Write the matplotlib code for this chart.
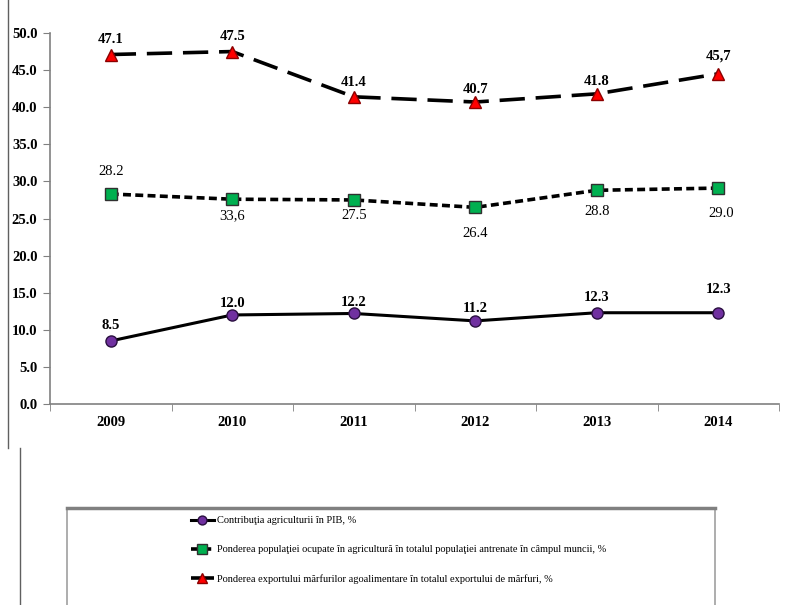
import matplotlib
matplotlib.use('Agg')
import matplotlib.pyplot as plt
from matplotlib.lines import Line2D
from matplotlib.patches import Rectangle

# data
years = ['2009', '2010', '2011', '2012', '2013', '2014']
pib = [8.5, 12.0, 12.2, 11.2, 12.3, 12.3]
pib_labels = ['8.5', '12.0', '12.2', '11.2', '12.3', '12.3']
populatie = [28.3, 27.6, 27.5, 26.5, 28.8, 29.1]
populatie_labels = ['28.2', '33,6', '27.5', '26.4', '28.8', '29.0']
export = [47.1, 47.5, 41.4, 40.7, 41.8, 44.5]
export_labels = ['47.1', '47.5', '41.4', '40.7', '41.8', '45,7']
legend_names = [
    'Contribuţia agriculturii în PIB, %',
    'Ponderea populaţiei ocupate în agricultură în totalul populaţiei antrenate în câmpul muncii, %',
    'Ponderea exportului mărfurilor agoalimentare în totalul exportului de mărfuri, %',
]

plt.rcParams['font.family'] = ['Liberation Serif', 'DejaVu Serif']

W, H = 790, 605
fig = plt.figure(figsize=(W / 100, H / 100), dpi=100)
# axes box in pixels: x 50..779, y 33..404
ax = fig.add_axes([50 / W, (H - 404) / H, (779 - 50) / W, (404 - 33) / H])

x = list(range(len(years)))

l1, = ax.plot(x, pib, color='black', lw=2.2, marker='o', markersize=8,
              markerfacecolor='#7030A0', markeredgecolor='#2a1040', zorder=3)
l2, = ax.plot(x, populatie, color='black', lw=2.6, linestyle=(0, (2.2, 1.2)),
              marker='s', markersize=8.5, markerfacecolor='#00B050',
              markeredgecolor='#303030', zorder=3)
l3, = ax.plot(x, export, color='black', lw=2.6, linestyle=(0, (7, 3)),
              marker='^', markersize=9, markerfacecolor='#FF0000',
              markeredgecolor='#8b0000', zorder=3)

# value labels (offsets in points)
pib_off = [11, 8, 8, 9, 11, 17]
for i, t in enumerate(pib_labels):
    ax.annotate(t, (x[i], pib[i]), xytext=(0, pib_off[i]), textcoords='offset points',
                ha='center', va='center', fontsize=10.5, fontweight='bold')

pop_off = [16, -12, -11, -19, -15, -18]
for i, t in enumerate(populatie_labels):
    ax.annotate(t, (x[i], populatie[i]), xytext=(2 if i == 5 else 0, pop_off[i]),
                textcoords='offset points', ha='center', va='center', fontsize=10.5)

exp_off = [10.5, 10.5, 10, 9, 9, 13]
for i, t in enumerate(export_labels):
    ax.annotate(t, (x[i], export[i]), xytext=(0, exp_off[i]), textcoords='offset points',
                ha='center', va='center', fontsize=10.5, fontweight='bold')

ax.set_xlim(-0.5, len(years) - 0.5)
ax.set_ylim(0, 50)
ax.set_yticks([i * 5 for i in range(11)])
ax.set_yticklabels(['%.1f' % (i * 5) for i in range(11)], fontweight='bold', fontsize=10.5)
ax.set_xticks(x)
ax.set_xticklabels(years, fontweight='bold', fontsize=10.5)
ax.set_xticks([i + 0.5 for i in range(-1, len(years))], minor=True)
ax.tick_params(axis='x', which='major', length=0, pad=9)
ax.tick_params(axis='x', which='minor', length=5, color='#808080', direction='out')
ax.tick_params(axis='y', length=5, color='#808080', pad=4)

for s in ['top', 'right']:
    ax.spines[s].set_visible(False)
for s in ['left', 'bottom']:
    ax.spines[s].set_color('#808080')
    ax.spines[s].set_linewidth(1.2)

# page lines on the left
fig.add_artist(Line2D([8 / W, 8 / W], [1, (H - 448) / H], color='#606060', lw=1))
fig.add_artist(Line2D([20 / W, 20 / W], [(H - 448) / H, 0], color='#606060', lw=1))

# legend frame (cut at the bottom)
fig.add_artist(Rectangle((67 / W, -0.05), (715 - 67) / W, (H - 508) / H + 0.05,
                         transform=fig.transFigure, fill=False, edgecolor='#a0a0a0', lw=1.2))
fig.add_artist(Line2D([67 / W, 715 / W], [(H - 508) / H] * 2, color='#808080', lw=2.5))

fig.legend([l1, l2, l3], legend_names, loc='upper left',
           bbox_to_anchor=(191 / W, (H - 516) / H), frameon=False, borderpad=0,
           borderaxespad=0, fontsize=7.5, handlelength=2.2, handletextpad=0.3,
           labelspacing=1.9, markerscale=0.8)

fig.savefig('out.png', dpi=100)
